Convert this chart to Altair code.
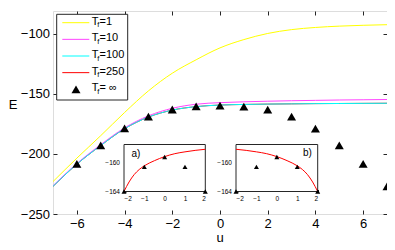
import altair as alt
import pandas as pd

# ---------------- data ----------------
u_curve = [-7, -6, -5, -4, -3, -2, -1, 0, 1, 2, 3, 4, 5, 6, 7]
E_T1 = [-223, -203.5, -184.8, -165.5, -147.5, -132.8, -121.6, -111.7, -104.8, -99.7, -96.5, -94.7, -93.6, -92.9, -92.4]
E_T10 = [-226.5, -208, -192.3, -178.3, -168.3, -162, -158.6, -157.3, -156.6, -156.1, -155.7, -155.4, -155.1, -154.9, -154.7]
E_T100 = [-227, -208.5, -193, -179, -169.3, -163.5, -160.6, -159.3, -158.8, -158.5, -158.3, -158.1, -158, -157.9, -157.8]
E_T250 = [-227, -208.5, -193, -179, -169.3, -163.5, -160.6, -159.3, -158.8, -158.5, -158.3, -158.1, -158, -157.9, -157.8]

u_inf = [-6, -5, -4, -3, -2, -1, 0, 1, 2, 3, 4, 5, 6, 7]
E_inf = [-208.3, -192.8, -178.8, -169, -163, -160.4, -159.8, -160.6, -163.1, -168.9, -178.9, -192.8, -208.3, -227]

u_inset = [-2, -1, 0, 1, 2]
E_inset = [-164, -160.65, -159.3, -160.65, -164]
u_fit_a = [-2, -1.75, -1.5, -1.25, -1, -0.5, 0, 0.5, 1, 1.5, 2]
E_fit_a = [-164, -162.7, -161.7, -161.0, -160.5, -159.8, -159.25, -158.85, -158.6, -158.4, -158.25]
u_fit_b = [-2, -1.5, -1, -0.5, 0, 0.5, 1, 1.25, 1.5, 1.75, 2]
E_fit_b = [-158.25, -158.4, -158.6, -158.85, -159.25, -159.8, -160.5, -161.0, -161.7, -162.7, -164]

legend_rest = ["=1", "=10", "=100", "=250", " = \u221e"]
legend_colors = ["#ffff00", "#ff44ff", "#00ffff", "#ff0000", "black"]

x_ticks = [-6, -4, -2, 0, 2, 4, 6]
y_ticks = [-250, -200, -150, -100]

# ---------------- layout ----------------
W, H = 334, 203
AX = "#262626"
FONT = "Liberation Sans"

xs = alt.Scale(domain=[-7, 7], nice=False, zero=False)
ys = alt.Scale(domain=[-250, -81], nice=False, zero=False)

# curves
curves = []
for vals, col in [(E_T250, "#ff0000"), (E_T1, "#ffff00"), (E_T10, "#ff44ff"), (E_T100, "#00ffff")]:
    df = pd.DataFrame({"u": u_curve, "E": vals})
    curves.append(
        alt.Chart(df).mark_line(color=col, strokeWidth=1, interpolate="monotone").encode(
            x=alt.X("u:Q", scale=xs, axis=None),
            y=alt.Y("E:Q", scale=ys, axis=None),
        )
    )

df_inf = pd.DataFrame({"u": u_inf, "E": E_inf})
tri = alt.Chart(df_inf).mark_point(shape="triangle-up", filled=True, color="black", size=81, opacity=1).encode(
    x=alt.X("u:Q", scale=xs, axis=alt.Axis(orient="bottom", values=x_ticks, offset=-4, tickSize=4, domain=False,
                                            grid=False, labelFontSize=13, labelPadding=3, title=None,
                                            tickColor=AX, labelColor="black")),
    y=alt.Y("E:Q", scale=ys, axis=alt.Axis(orient="left", values=y_ticks, offset=-4, tickSize=4, domain=False,
                                            grid=False, labelFontSize=13, labelPadding=3.4, title=None,
                                            tickColor=AX, labelColor="black")),
)
tr_axes = alt.Chart(df_inf).mark_point(opacity=0).encode(
    x=alt.X("u:Q", scale=xs, axis=alt.Axis(orient="top", values=x_ticks, offset=-4, tickSize=4, domain=False,
                                            grid=False, labels=False, title=None, tickColor=AX)),
    y=alt.Y("E:Q", scale=ys, axis=alt.Axis(orient="right", values=y_ticks, offset=-4, tickSize=4, domain=False,
                                            grid=False, labels=False, title=None, tickColor=AX)),
)

# insets
yi_top, yi_bot = 133.5, 180.5
yi = alt.Scale(domain=[-164, -157.6], range=[yi_bot, yi_top], nice=False, zero=False)


def inset(x0, x1, u_fit, E_fit, label, lx, ly):
    xi = alt.Scale(domain=[-2, 2], range=[x0, x1], nice=False, zero=False)
    frame_df = pd.DataFrame({"a": [-2], "b": [2], "c": [-164], "d": [-157.6]})
    frame = alt.Chart(frame_df).mark_rect(fill="white", stroke=AX, strokeWidth=1).encode(
        x=alt.X("a:Q", scale=xi, axis=None), x2="b:Q",
        y=alt.Y("c:Q", scale=yi, axis=None), y2="d:Q",
    )
    fit = alt.Chart(pd.DataFrame({"u": u_fit, "E": E_fit})).mark_line(
        color="#ff0000", strokeWidth=1, interpolate="monotone").encode(
        x=alt.X("u:Q", scale=xi, axis=None),
        y=alt.Y("E:Q", scale=yi, axis=None),
    )
    pts = alt.Chart(pd.DataFrame({"u": u_inset, "E": E_inset})).mark_point(
        shape="triangle-up", filled=True, color="black", size=25, opacity=1).encode(
        x=alt.X("u:Q", scale=xi, axis=alt.Axis(orient="bottom", values=u_inset, offset=yi_bot - H - 2, tickSize=2,
                                                domain=False, grid=False, labelFontSize=6.5, labelPadding=4,
                                                title=None, tickColor=AX, labelColor="black")),
        y=alt.Y("E:Q", scale=yi, axis=alt.Axis(orient="left", values=[-164, -160], offset=-(x0 + 2), tickSize=2,
                                                domain=False, grid=False, labelFontSize=6.5, labelPadding=4.5,
                                                title=None, tickColor=AX, labelColor="black")),
    )
    txt = alt.Chart(pd.DataFrame({"t": [label]})).mark_text(fontSize=10, color="black").encode(
        x=alt.value(lx), y=alt.value(ly), text="t:N")
    return [frame, fit, pts, txt]


inset_a = inset(71, 152.3, u_fit_a, E_fit_a, "a)", 83, 143)
inset_b = inset(183, 264.7, u_fit_b, E_fit_b, "b)", 254.5, 142)

# legend
leg = pd.DataFrame({"idx": list(range(5)), "rest": legend_rest, "col": legend_colors})
ly = alt.Scale(domain=[0, 4], range=[11.7, 78.3])
box = alt.Chart(pd.DataFrame({"k": [0]})).mark_rect(fill="white", stroke=AX, strokeWidth=1).encode(
    x=alt.value(3.7), x2=alt.value(74.7), y=alt.value(3.3), y2=alt.value(89))
leg_lines = alt.Chart(leg).transform_filter("datum.idx < 4").mark_rule(strokeWidth=1).encode(
    x=alt.value(9.3), x2=alt.value(36.3),
    y=alt.Y("idx:Q", scale=ly, axis=None),
    color=alt.Color("col:N", scale=None, legend=None))
leg_tri = alt.Chart(leg).transform_filter("datum.idx == 4").mark_point(
    shape="triangle-up", filled=True, color="black", size=81, opacity=1).encode(
    x=alt.value(23), y=alt.Y("idx:Q", scale=ly, axis=None))
leg_T = alt.Chart(leg).mark_text(align="left", baseline="middle", fontSize=11, dy=-1, color="black").encode(
    x=alt.value(38.7), y=alt.Y("idx:Q", scale=ly, axis=None), text=alt.value("T"))
leg_f = alt.Chart(leg).mark_text(align="left", baseline="middle", fontSize=7.5, dy=2.5, color="black").encode(
    x=alt.value(44.2), y=alt.Y("idx:Q", scale=ly, axis=None), text=alt.value("f"))
leg_rest = alt.Chart(leg).mark_text(align="left", baseline="middle", fontSize=11, dy=-1, color="black").encode(
    x=alt.value(46.5), y=alt.Y("idx:Q", scale=ly, axis=None), text="rest:N")

# axis titles
lab_df = pd.DataFrame({"t": ["E", "u"]})
lab_E = alt.Chart(lab_df).transform_filter("datum.t == 'E'").mark_text(fontSize=13, color="black").encode(
    x=alt.value(-40), y=alt.value(94), text="t:N")
lab_u = alt.Chart(lab_df).transform_filter("datum.t == 'u'").mark_text(fontSize=13, color="black").encode(
    x=alt.value(167), y=alt.value(227), text="t:N")

layers = curves + [tri, tr_axes] + inset_a + inset_b + [box, leg_lines, leg_tri, leg_T, leg_f, leg_rest, lab_E, lab_u]

chart = alt.layer(*layers).resolve_scale(x="independent", y="independent").properties(
    width=W, height=H,
    autosize=alt.AutoSizeParams(type="none"),
    padding={"left": 45, "top": 3, "right": 0, "bottom": 39},
).configure_view(stroke=AX, strokeWidth=1).configure(font=FONT)

chart.save("out.html", embed_options={"renderer": "svg", "actions": False})
